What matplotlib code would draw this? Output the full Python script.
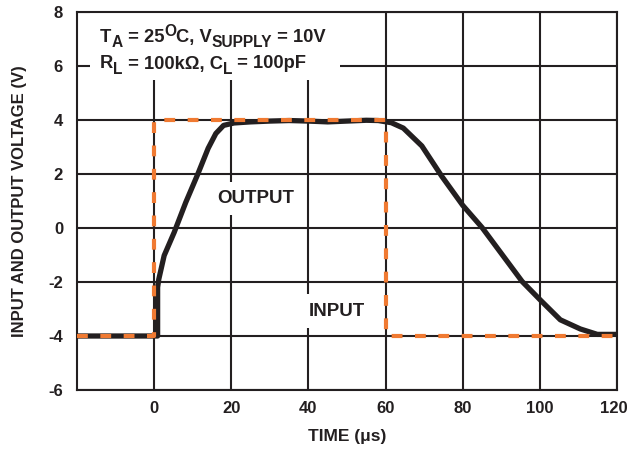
import matplotlib
matplotlib.use("Agg")
import matplotlib.pyplot as plt
import matplotlib.transforms as mtransforms
from matplotlib.patches import Rectangle

plt.rcParams['font.family'] = ['Liberation Sans', 'DejaVu Sans']
plt.rcParams['font.weight'] = 'bold'
plt.rcParams['axes.unicode_minus'] = False

# Data
input_time = [-20, 0, 0, 60, 60, 120]
input_volt = [-4, -4, 4, 4, -4, -4]

output_time = [-20, 0.9, 0.9, 1.2, 2.6, 5.2, 8.2, 11.3, 14.0, 16.0, 18.0, 20.7, 25, 30, 35,
               40, 45, 50, 55, 58.1, 61.5, 64.6, 69.4, 74.6, 80, 85, 95.4, 100, 105.3,
               110.5, 114.9, 120]
output_volt = [-4, -4, -2.2, -1.9, -1.02, -0.16, 0.95, 1.99, 2.95, 3.5, 3.8, 3.89, 3.93, 3.96, 3.98,
               3.96, 3.93, 3.96, 3.99, 3.98, 3.9, 3.7, 3.04, 1.91, 0.84, 0.02, -1.98, -2.65, -3.4,
               -3.74, -3.94, -3.94]

x_ticks = [0, 20, 40, 60, 80, 100, 120]
y_ticks = [-6, -4, -2, 0, 2, 4, 6, 8]

dark = '#231F20'
orange = '#F07A32'

W, H = 630, 455
fig = plt.figure(figsize=(W / 100, H / 100), dpi=100)
L, R, T, B = 77, 617, 12, 390
ax = fig.add_axes([L / W, 1 - B / H, (R - L) / W, (B - T) / H])

ax.set_xlim(-20, 120)
ax.set_ylim(-6, 8)
ax.set_xticks(x_ticks)
ax.set_yticks(y_ticks)
ax.tick_params(length=0, labelsize=12, colors=dark)
ax.tick_params(axis='x', pad=8)
ax.tick_params(axis='y', pad=10)
for lab in ax.get_xticklabels() + ax.get_yticklabels():
    lab.set_fontweight('bold')
# nudge the last x label so it stays inside the figure
last = ax.get_xticklabels()[-1]
last.set_transform(last.get_transform() + mtransforms.ScaledTranslation(-3 / 100, 0, fig.dpi_scale_trans))

ax.grid(True, color=dark, linewidth=1.5)
ax.set_axisbelow(True)
for s in ax.spines.values():
    s.set_color(dark)
    s.set_linewidth(1.5)

ax.plot(output_time, output_volt, color=dark, linewidth=3.8, zorder=3,
        solid_joinstyle='round')
ax.plot(input_time, input_volt, color=orange, linewidth=3.0, dashes=(2.6, 3.0),
        zorder=4)

ax.set_xlabel('TIME (μs)', fontsize=12.5, fontweight='bold', color=dark, labelpad=9)
ax.yaxis.set_label_coords(-(L - 20) / (R - L), 0.5)
ax.set_ylabel('INPUT AND OUTPUT VOLTAGE (V)', fontsize=12, fontweight='bold',
              color=dark, va='center')

# white background for the conditions text (covers grid lines)
ax.add_patch(Rectangle(((90 - L) / (R - L), (B - 80) / (B - T)),
                       (340 - 90) / (R - L), 1 - (B - 80) / (B - T),
                       transform=ax.transAxes, facecolor='white', edgecolor='none', zorder=2))

fig.canvas.draw()
renderer = fig.canvas.get_renderer()


def seg_width(s, size):
    t1 = fig.text(0, 0, '|' + s + '|', fontsize=size, fontweight='bold')
    t2 = fig.text(0, 0, '||', fontsize=size, fontweight='bold')
    w = t1.get_window_extent(renderer).width - t2.get_window_extent(renderer).width
    t1.remove()
    t2.remove()
    return w


def rich_line(x_px, base_px, segments):
    x = x_px
    for s, size, dy in segments:
        fig.text(x / 100, (H - base_px + dy) / 100, s, transform=fig.dpi_scale_trans,
                 fontsize=size, fontweight='bold', color=dark, ha='left', va='baseline',
                 zorder=6)
        x += seg_width(s, size)


M, S = 13.2, 11.2
rich_line(100, 42, [('T', M, 0), ('A', S, -5), (' = 25', M, 0), ('O', S, 6),
                    ('C, V', M, 0), ('SUPPLY', S, -5), (' = 10V', M, 0)])
rich_line(100, 68.5, [('R', M, 0), ('L', S, -5), (' = 100kΩ, C', M, 0), ('L', S, -5),
                      (' = 100pF', M, 0)])

ax.text(26.3, 1.1, 'OUTPUT', fontsize=13.5, fontweight='bold', color=dark,
        ha='center', va='center', zorder=5, bbox=dict(facecolor='white', edgecolor='none', pad=6))
ax.text(47.4, -3.08, 'INPUT', fontsize=13.5, fontweight='bold', color=dark,
        ha='center', va='center', zorder=5, bbox=dict(facecolor='white', edgecolor='none', pad=6))

fig.savefig('out.png', dpi=100)
